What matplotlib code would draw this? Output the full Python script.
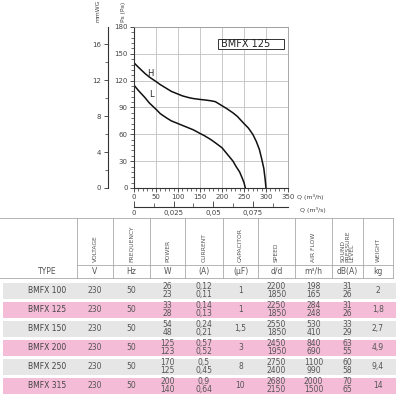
'''
Fan curve BMFX 125 + data table
'''

import numpy as np
import matplotlib.pyplot as plt
from matplotlib.patches import Rectangle
from matplotlib.ticker import MultipleLocator, FixedLocator

# Curve data (Q in m3/h, Ps in Pa)
q_h = [0, 10, 25, 35, 50, 60, 75, 85, 100, 110, 125, 135, 150, 160, 175, 185,
       200, 210, 225, 235, 250, 260, 270, 278, 285, 290, 295, 298, 300]
ps_h = [140, 135, 128, 124, 119, 115.5, 111, 108, 105, 103, 101, 100, 99, 98.5, 97.5, 96.5,
        92, 89, 84, 80, 72, 67, 60, 52, 43, 33, 22, 10, 0]
q_l = [0, 10, 25, 35, 50, 60, 75, 85, 100, 110, 125, 135, 150, 160, 175, 185,
       200, 210, 225, 232, 240, 246, 250, 253]
ps_l = [115, 109, 101, 95, 88, 83, 78, 75, 72, 70, 67, 65, 61, 58.5, 54, 50.5,
        45, 39, 30, 24, 18, 11, 6, 0]

# Table data
types = ["BMFX 100", "BMFX 125", "BMFX 150", "BMFX 200", "BMFX 250", "BMFX 315"]
voltage = ["230"] * 6
frequency = ["50"] * 6
power = ["26\n23", "33\n28", "54\n48", "125\n123", "170\n125", "200\n140"]
current = ["0,12\n0,11", "0,14\n0,13", "0,24\n0,21", "0,57\n0,52", "0,5\n0,45", "0,9\n0,64"]
capacitor = ["1", "1", "1,5", "3", "8", "10"]
speed = ["2200\n1850", "2250\n1850", "2550\n1850", "2450\n1950", "2750\n2400", "2680\n2150"]
airflow = ["198\n165", "284\n248", "530\n410", "840\n690", "1100\n990", "2000\n1500"]
sound = ["31\n26", "31\n26", "33\n29", "63\n55", "60\n58", "70\n65"]
weight = ["2", "1,8", "2,7", "4,9", "9,4", "14"]

headers = ["VOLTAGE", "FREQUENCY", "POWER", "CURRENT", "CAPACITOR", "SPEED",
           "AIR FLOW", "SOUND\nPRESSURE\nLEVEL", "WEIGHT"]
units = ["V", "Hz", "W", "(A)", "(µF)", "d/d", "m³/h", "dB(A)", "kg"]

W, H = 400, 400
dark = "#333333"
txt = "#555555"
gridc = "#c0c0c0"

fig = plt.figure(figsize=(4, 4), dpi=100)

def box(x0, y0, x1, y1):
    # pixel box (top-left origin) -> figure fraction
    return [x0 / W, 1 - y1 / H, (x1 - x0) / W, (y1 - y0) / H]

# ---- main chart ----
ax = fig.add_axes(box(134, 27, 288, 188))
ax.plot(q_h, ps_h, color="#111111", lw=1.1)
ax.plot(q_l, ps_l, color="#111111", lw=1.1)
ax.set_xlim(0, 350)
ax.set_ylim(0, 180)
ax.xaxis.set_major_locator(MultipleLocator(50))
ax.xaxis.set_minor_locator(MultipleLocator(10))
ax.yaxis.set_major_locator(MultipleLocator(30))
ax.yaxis.set_minor_locator(MultipleLocator(6))
ax.grid(True, which="major", color=gridc, lw=0.6)
ax.tick_params(which="both", direction="out", colors=dark, labelsize=5, labelcolor="#444444")
ax.tick_params(which="major", length=3, width=0.6, pad=1.5)
ax.tick_params(which="minor", length=2, width=0.5)
for s in ["left", "bottom"]:
    ax.spines[s].set_color(dark)
    ax.spines[s].set_linewidth(0.8)
for s in ["top", "right"]:
    ax.spines[s].set_color("#999999")
    ax.spines[s].set_linewidth(0.6)

ax.text(36, 128, "H", fontsize=6, color="#222222", ha="center", va="center")
ax.text(39, 104, "L", fontsize=6, color="#222222", ha="center", va="center")
ax.add_patch(Rectangle((190, 155.4), 152, 11.2, facecolor="white", edgecolor=dark, lw=0.7, zorder=3))
ax.text(198, 161, "BMFX 125", fontsize=7, color="#222222", va="center", zorder=4)

# mmWG axis
ax2 = ax.twinx()
ax2.set_ylim(0, 17.9)
ax2.spines["right"].set_visible(False)
ax2.spines["top"].set_visible(False)
ax2.spines["bottom"].set_visible(False)
ax2.spines["left"].set_position(("outward", 19))
ax2.spines["left"].set_color(dark)
ax2.spines["left"].set_linewidth(0.8)
ax2.yaxis.set_ticks_position("left")
ax2.yaxis.set_major_locator(FixedLocator([0, 4, 8, 12, 16]))
ax2.yaxis.set_minor_locator(FixedLocator([2, 6, 10, 14]))
ax2.tick_params(which="both", colors=dark, labelsize=5, labelcolor="#444444")
ax2.tick_params(which="major", length=3, width=0.6, pad=1.5)
ax2.tick_params(which="minor", length=2, width=0.5)

fig.text(98 / W, 1 - 11 / H, "mmWG", rotation=90, fontsize=4.3, color="#444444", ha="center", va="center")
fig.text(123 / W, 1 - 12 / H, "Ps (Pa)", rotation=90, fontsize=4.3, color="#444444", ha="center", va="center")
fig.text(297 / W, 1 - 197 / H, "Q (m³/h)", fontsize=4.5, color="#444444", va="center")
fig.text(300 / W, 1 - 210 / H, "Q (m³/s)", fontsize=4.5, color="#444444", va="center")

# m3/s axis
ax3 = fig.add_axes(box(134, 206.9, 288, 207))
ax3.set_xlim(0, 350 / 3600)
ax3.set_yticks([])
for s in ["left", "right", "top"]:
    ax3.spines[s].set_visible(False)
ax3.spines["bottom"].set_color(dark)
ax3.spines["bottom"].set_linewidth(0.8)
ax3.patch.set_visible(False)
ax3.xaxis.set_major_locator(FixedLocator([0, 0.025, 0.05, 0.075]))
ax3.xaxis.set_minor_locator(FixedLocator([0.0125, 0.0375, 0.0625, 0.0875]))
ax3.set_xticklabels(["0", "0,025", "0,05", "0,075"])
ax3.tick_params(which="both", direction="in", colors=dark, labelsize=5, labelcolor="#444444")
ax3.tick_params(which="major", length=4, width=0.6, pad=2)
ax3.tick_params(which="minor", length=3, width=0.5)

# ---- table ----
tax = fig.add_axes([0, 0, 1, 1], zorder=-1)
tax.set_xlim(0, W)
tax.set_ylim(H, 0)
tax.axis("off")

edges = [0, 77, 113, 150, 185, 223, 258, 295, 332, 363, 393]
linec = "#a8a8a8"
tax.plot([0, 393], [218, 218], color=linec, lw=0.6)
tax.plot([77, 393], [265, 265], color=linec, lw=0.6)
tax.plot([0, 393], [278, 278], color=linec, lw=0.6)
for e in edges[1:]:
    tax.plot([e, e], [218, 278], color=linec, lw=0.6)

tax.text(47, 271.5, "TYPE", fontsize=5.5, color=txt, ha="center", va="center")
for i, (hd, un) in enumerate(zip(headers, units)):
    cx = (edges[i + 1] + edges[i + 2]) / 2
    tax.text(cx, 262, hd, rotation=90, fontsize=4.3, color=txt, ha="center", va="bottom",
             linespacing=0.9, multialignment="left")
    tax.text(cx, 271.5, un, fontsize=5.5, color=txt, ha="center", va="center")

columns = [voltage, frequency, power, current, capacitor, speed, airflow, sound, weight]
row_colors = ["#e6e6e6", "#f4bcd7"]
for r, t in enumerate(types):
    y0 = 283 + r * 19
    tax.add_patch(Rectangle((3, y0), 393, 15.5, facecolor=row_colors[r % 2], edgecolor="none"))
    yc = y0 + 7.75
    tax.text(47, yc, t, fontsize=5.5, color="#444444", ha="center", va="center")
    for i, col in enumerate(columns):
        cx = (edges[i + 1] + edges[i + 2]) / 2
        tax.text(cx, yc, col[r], fontsize=5.5, color=txt, ha="center", va="center", linespacing=0.85)

fig.savefig("out.png", dpi=100)
